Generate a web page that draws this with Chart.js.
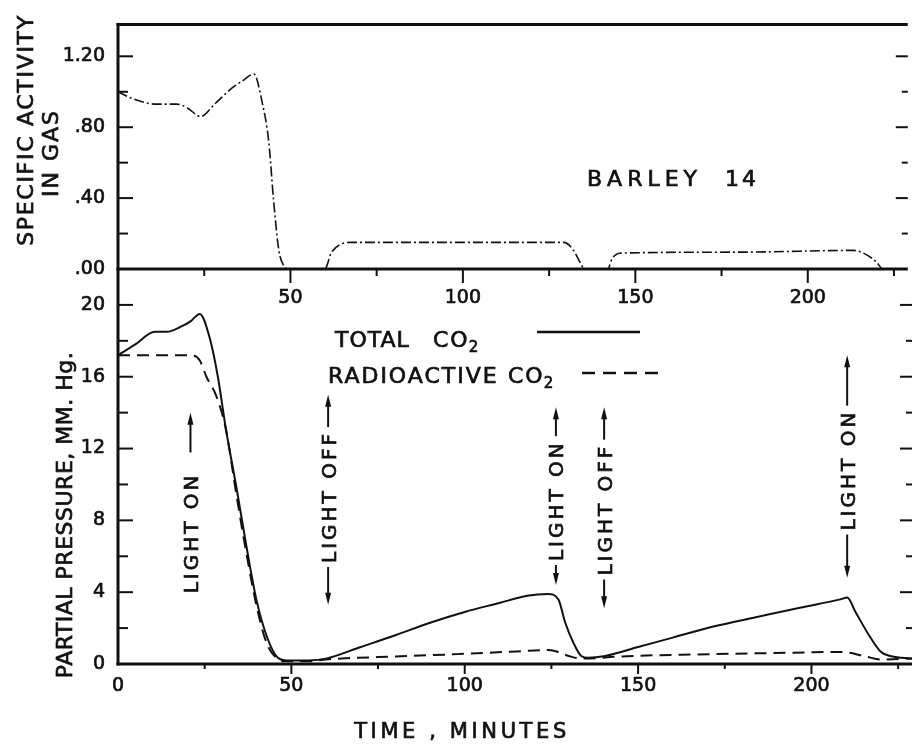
<!DOCTYPE html>
<html lang="en">
<head>
<meta charset="utf-8">
<title>Barley 14 – CO2 partial pressure and specific activity</title>
<script src="https://cdn.jsdelivr.net/npm/chart.js@4.4.1/dist/chart.umd.min.js"></script>
<style>
  html, body { margin: 0; padding: 0; background: #fff; }
  #figure { position: relative; width: 912px; height: 748px; overflow: hidden; background: #fff; }
  #figure canvas { position: absolute; left: 0; top: 0; }
</style>
</head>
<body>
<div id="figure">
  <canvas id="pressureChart" width="912" height="748"></canvas>
  <canvas id="activityChart" width="912" height="748"></canvas>
</div>
<script>
// ═══════════════════════════════════════════════════════════════
// Barley 14 – specific activity (top) and CO2 pressure (bottom)
// ═══════════════════════════════════════════════════════════════

// ── Data ───────────────────────────────────────────────────────
// Top panel: specific activity in gas (dash-dot)
const activityTime = [0, 4.4, 11, 17, 20, 24, 28, 33, 36, 39.4, 41.8, 43.7, 45.1, 46.6, 48, 49.4,
  60, 61.8, 64.7, 67.6, 100, 129.3, 131.9, 134.2, 135.2, 142, 143.3, 146.3, 180, 213.2, 216.1,
  219.9, 221.8, 229];
const specificActivity = [1.0, 0.96, 0.93, 0.93, 0.91, 0.86, 0.93, 1.02, 1.06, 1.10, 0.94, 0.72, 0.39, 0.11, 0.02, 0,
  0, 0.09, 0.14, 0.15, 0.15, 0.15, 0.11, 0.03, 0, 0, 0.06, 0.09, 0.095, 0.105, 0.09,
  0.04, 0, 0];

// Bottom panel: total CO2 (solid)
const totalTime = [0, 5, 10.6, 14, 18.3, 21, 23.6, 26.4, 28.8, 31.2, 34.1, 37, 39.9, 42.8, 45.6, 48.5,
  55, 60, 70, 80, 90, 100, 110, 118, 124, 127, 129, 131.3, 133.6, 135.6, 140.5, 150, 160,
  172, 185, 197, 208.3, 210.3, 212.7, 216.6, 219.9, 222.7, 226, 229];
const totalCO2 = [17.2, 17.8, 18.5, 18.5, 18.8, 19.1, 19.5, 18.2, 16.0, 13.0, 9.9, 6.6, 3.6, 1.6, 0.45, 0.2,
  0.2, 0.3, 0.95, 1.6, 2.3, 2.9, 3.4, 3.8, 3.9, 3.6, 2.3, 1.2, 0.45, 0.35, 0.45, 0.95, 1.47,
  2.1, 2.65, 3.15, 3.6, 3.7, 2.9, 1.6, 0.7, 0.45, 0.35, 0.3];

// Bottom panel: radioactive CO2 (dashed)
const radioTime = [0, 10, 21.2, 23.6, 25.5, 28.4, 31.2, 34, 37, 40, 42.8, 45.6, 48.5, 55, 60, 62,
  80, 98, 115, 124, 126, 130, 133.6, 138, 143, 172, 195, 207.5, 210, 216, 220, 229];
const radioCO2 = [17.2, 17.2, 17.2, 16.9, 16.0, 14.9, 13.0, 9.6, 6.2, 3.2, 1.2, 0.35, 0.15, 0.15, 0.25, 0.28,
  0.42, 0.55, 0.7, 0.78, 0.72, 0.45, 0.3, 0.32, 0.4, 0.55, 0.63, 0.67, 0.65, 0.4, 0.25, 0.3];

// Labelled tick values
const timeLabels = [0, 50, 100, 150, 200];
const activityLabels = [0, 0.4, 0.8, 1.2];
const pressureLabels = [0, 4, 8, 12, 16, 20];

// Light switching marks (minutes; text centre and arrow tips in mm Hg)
const lightEvents = [
  { t: 20.9,  label: 'LIGHT ON',  mid: 7.3,  up: 14.0, down: null, gap: 20 },
  { t: 60.6,  label: 'LIGHT OFF', mid: 9.3,  up: 15.0, down: 3.3,  gap: 4 },
  { t: 126.3, label: 'LIGHT ON',  mid: 9.1,  up: 14.3, down: 4.4,  gap: 4 },
  { t: 140.2, label: 'LIGHT OFF', mid: 8.6,  up: 14.3, down: 3.1,  gap: 4 },
  { t: 210.3, label: 'LIGHT ON',  mid: 10.8, up: 17.2, down: 4.8,  gap: 4 },
];


// ── Shared helpers ─────────────────────────────────────────────
const INK = '#111';
const FONT = "'DejaVu Sans', sans-serif";

const toPoints = (xs, ys) => xs.map((x, i) => ({ x, y: ys[i] }));
const isLabel = (list, v) => list.some(l => Math.abs(l - v) < 1e-6);

function strokeLine(ctx, x1, y1, x2, y2) {
  ctx.beginPath();
  ctx.moveTo(x1, y1);
  ctx.lineTo(x2, y2);
  ctx.stroke();
}

// lettering is slightly heavier than a plain font, so it gets a thin outline too
function drawText(ctx, text, x, y, size, spacing, opts = {}) {
  ctx.save();
  ctx.font = size + 'px ' + FONT;
  ctx.letterSpacing = spacing + 'px';
  ctx.fillStyle = INK;
  ctx.strokeStyle = INK;
  ctx.lineWidth = 0.7;
  ctx.textAlign = opts.align || 'left';
  ctx.textBaseline = 'alphabetic';
  ctx.translate(x, y);
  if (opts.rotate) ctx.rotate(-Math.PI / 2);
  ctx.fillText(text, 0, 0);
  ctx.strokeText(text, 0, 0);
  const w = ctx.measureText(text).width;
  ctx.restore();
  return w;
}

// text with a lowered "2" (CO2)
function drawFormula(ctx, text, x, y) {
  const w = drawText(ctx, text, x, y, 22, 2);
  drawText(ctx, '2', x + w - 1, y + 5, 15, 0);
}

function arrow(ctx, x, from, tip) {
  const dir = tip < from ? -1 : 1;
  ctx.lineWidth = 2;
  strokeLine(ctx, x, from, x, tip - dir * 8);
  ctx.beginPath();
  ctx.moveTo(x, tip);
  ctx.lineTo(x - 3, tip - dir * 12);
  ctx.lineTo(x + 3, tip - dir * 12);
  ctx.closePath();
  ctx.fill();
}


// ── Frame: axis lines and tick marks ───────────────────────────
const frame = {
  id: 'frame',
  afterDraw(chart, args, opts) {
    const { ctx, chartArea: a, scales: { x, y } } = chart;
    ctx.save();
    ctx.strokeStyle = INK;
    ctx.lineWidth = 3;
    strokeLine(ctx, a.left, a.top - (opts.topLine ? 1.5 : 0), a.left, a.bottom + 1.5);
    strokeLine(ctx, a.left - 1.5, a.bottom, a.right, a.bottom);
    if (opts.topLine) strokeLine(ctx, a.left - 1.5, a.top, a.right, a.top);

    // y ticks point inward on both sides
    ctx.lineWidth = 2;
    y.ticks.forEach(t => {
      if (t.value <= y.min || t.value >= y.max) return;
      const py = y.getPixelForValue(t.value);
      const major = isLabel(opts.yLabels, t.value);
      strokeLine(ctx, a.left, py, a.left + (major ? 15 : 10), py);
      strokeLine(ctx, a.right, py, a.right - (major ? 12 : 6), py);
    });

    // x ticks hang below the axis
    x.ticks.forEach(t => {
      if (t.value <= x.min) return;
      const px = x.getPixelForValue(t.value);
      const len = isLabel(timeLabels, t.value) ? opts.xMajor : opts.xMinor;
      strokeLine(ctx, px, a.bottom, px, a.bottom + len);
    });
    ctx.restore();
  }
};


// ── Scale builders ─────────────────────────────────────────────
const tickFont = { family: FONT, size: 19 };

function timeScale(padding, showZero, height) {
  return {
    type: 'linear', min: 0, max: 229,
    grid: { display: false, drawTicks: false },
    border: { display: false },
    ticks: {
      stepSize: 25, includeBounds: false, autoSkip: false, maxRotation: 0, padding,
      color: INK, font: tickFont, textStrokeColor: INK, textStrokeWidth: 0.7,
      callback: v => (isLabel(timeLabels, v) && (showZero || v !== 0)) ? String(v) : ''
    },
    afterFit: s => { s.height = height; }
  };
}

function valueScale(max, step, labels, format) {
  return {
    type: 'linear', min: 0, max,
    grid: { display: false, drawTicks: false },
    border: { display: false },
    ticks: {
      stepSize: step, includeBounds: false, autoSkip: false, padding: 13,
      color: INK, font: tickFont, textStrokeColor: INK, textStrokeWidth: 0.7,
      callback: v => isLabel(labels, v) ? format(v) : ''
    },
    afterFit: s => { s.width = 118; }
  };
}

const baseOptions = {
  responsive: false,
  animation: false,
  devicePixelRatio: 1,
  events: [],
  plugins: { legend: { display: false }, tooltip: { enabled: false } },
};


// ── Top panel: specific activity ───────────────────────────────
const activityDecor = {
  id: 'activityDecor',
  afterDraw(chart) {
    const ctx = chart.ctx;
    drawText(ctx, 'SPECIFIC ACTIVITY', 33, 130, 22, 1.7, { rotate: true, align: 'center' });
    drawText(ctx, 'IN GAS', 58, 153, 22, 2, { rotate: true, align: 'center' });
    drawText(ctx, 'BARLEY', 587, 186, 22, 5);
    drawText(ctx, '14', 725, 186, 22, 3);
  }
};

new Chart(document.getElementById('activityChart'), {
  type: 'line',
  data: {
    datasets: [{
      label: 'Specific activity in gas',
      data: toPoints(activityTime, specificActivity),
      borderColor: INK,
      borderWidth: 1.6,
      borderDash: [10, 3, 2, 3],
      pointRadius: 0,
      cubicInterpolationMode: 'monotone',
      fill: false,
    }]
  },
  options: {
    ...baseOptions,
    layout: { padding: { top: 19, left: 0, right: 0, bottom: 429 } },
    scales: {
      x: timeScale(18, false, 50),
      y: valueScale(1.38, 0.2, activityLabels, v => v.toFixed(2).replace(/^0/, '')),
    },
    plugins: {
      ...baseOptions.plugins,
      frame: { topLine: true, yLabels: activityLabels, xMajor: 14, xMinor: 7 },
    }
  },
  plugins: [frame, activityDecor]
});


// ── Bottom panel: partial pressure ─────────────────────────────
const pressureDecor = {
  id: 'pressureDecor',
  afterDraw(chart) {
    const { ctx, scales: { x, y } } = chart;
    ctx.save();
    ctx.strokeStyle = INK;
    ctx.fillStyle = INK;

    // axis titles
    drawText(ctx, 'PARTIAL PRESSURE, MM. Hg.', 72, 515, 22, 0.5, { rotate: true, align: 'center' });
    drawText(ctx, 'TIME , MINUTES', 462, 738, 21, 3.6, { align: 'center' });

    // legend
    drawText(ctx, 'TOTAL', 335, 347, 22, 1);
    drawFormula(ctx, 'CO', 433, 347);
    ctx.lineWidth = 2.5;
    strokeLine(ctx, 537, 332, 640, 332);
    drawText(ctx, 'RADIOACTIVE', 328, 383, 22, 2);
    drawFormula(ctx, 'CO', 508, 383);
    ctx.setLineDash([13, 8]);
    strokeLine(ctx, 582, 373, 662, 373);
    ctx.setLineDash([]);

    // light on / off marks
    lightEvents.forEach(ev => {
      const px = x.getPixelForValue(ev.t);
      const pc = y.getPixelForValue(ev.mid);
      const w = drawText(ctx, ev.label, px + 7.5, pc, 20, 3, { rotate: true, align: 'center' });
      if (ev.up != null) arrow(ctx, px, pc - w / 2 - ev.gap, y.getPixelForValue(ev.up));
      if (ev.down != null) arrow(ctx, px, pc + w / 2 + ev.gap, y.getPixelForValue(ev.down));
    });
    ctx.restore();
  }
};

new Chart(document.getElementById('pressureChart'), {
  type: 'line',
  data: {
    datasets: [{
      label: 'Total CO2',
      data: toPoints(totalTime, totalCO2),
      borderColor: INK,
      borderWidth: 2,
      pointRadius: 0,
      cubicInterpolationMode: 'monotone',
      fill: false,
    }, {
      label: 'Radioactive CO2',
      data: toPoints(radioTime, radioCO2),
      borderColor: INK,
      borderWidth: 2,
      borderDash: [12, 7],
      pointRadius: 0,
      cubicInterpolationMode: 'monotone',
      fill: false,
    }]
  },
  options: {
    ...baseOptions,
    layout: { padding: { top: 269, left: 0, right: 0, bottom: 34 } },
    scales: {
      x: timeScale(11, true, 50),
      y: valueScale(22, 2, pressureLabels, v => String(v)),
    },
    plugins: {
      ...baseOptions.plugins,
      frame: { topLine: false, yLabels: pressureLabels, xMajor: 10, xMinor: 5 },
    }
  },
  plugins: [frame, pressureDecor]
});
</script>
</body>
</html>
